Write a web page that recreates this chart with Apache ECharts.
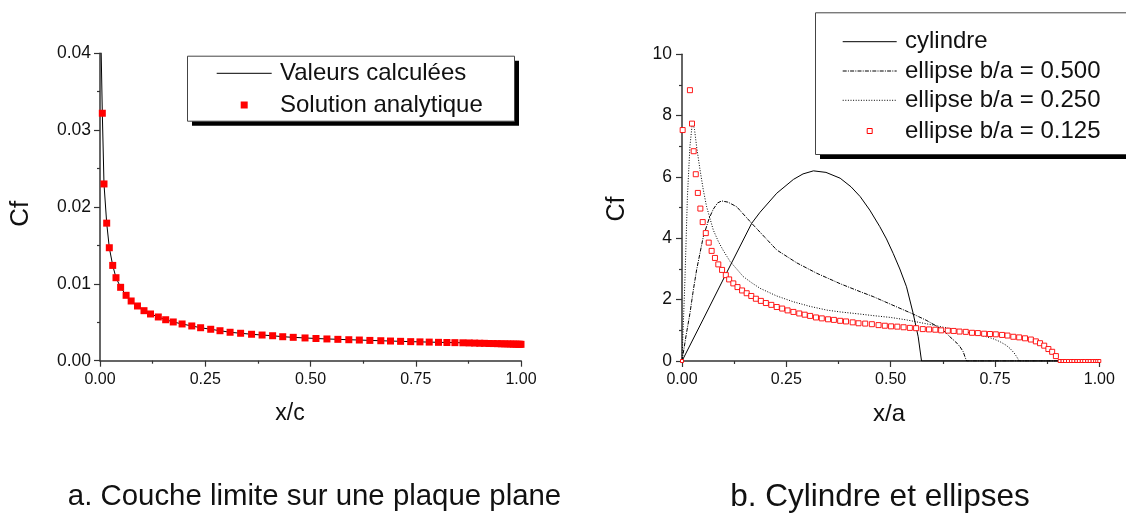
<!DOCTYPE html>
<html>
<head>
<meta charset="utf-8">
<script src="https://cdn.jsdelivr.net/npm/echarts@6/dist/echarts.min.js"></script>
<style>
  html, body { margin: 0; padding: 0; background: #fff; }
  #chart { width: 1126px; height: 513px; }
</style>
</head>
<body>
<div id="chart"></div>
<script>
// ---- a. Flat-plate boundary layer: skin friction along the chord ----
const plateCalcX = [0.0025, 0.0055, 0.0095, 0.0159, 0.0221, 0.0302, 0.038, 0.049, 0.062, 0.074, 0.089,
  0.1045, 0.120, 0.1385, 0.156, 0.174, 0.195, 0.218, 0.239, 0.263, 0.285, 0.309, 0.334, 0.360, 0.385,
  0.410, 0.434, 0.459, 0.487, 0.513, 0.539, 0.565, 0.591, 0.616, 0.641, 0.667, 0.690, 0.714, 0.738,
  0.760, 0.782, 0.804, 0.824, 0.843, 0.862, 0.877, 0.890, 0.902, 0.913, 0.924, 0.934, 0.944, 0.953,
  0.961, 0.969, 0.976, 0.982, 0.988, 0.993, 0.997, 1.000];
const plateCalcCf = [0.0410, 0.0322, 0.0230, 0.0179, 0.0147, 0.0124, 0.0108, 0.00955, 0.00851, 0.00777, 0.00712,
  0.00651, 0.00608, 0.00569, 0.00533, 0.00504, 0.00478, 0.00452, 0.00429, 0.00409, 0.00390, 0.00370, 0.00357, 0.00344, 0.00334,
  0.00325, 0.00312, 0.00304, 0.00296, 0.00289, 0.00283, 0.00278, 0.00273, 0.00269, 0.00264, 0.00260, 0.00256, 0.00252, 0.00248,
  0.00245, 0.00242, 0.00239, 0.00237, 0.00235, 0.00233, 0.00231, 0.00229, 0.00227, 0.00226, 0.00224, 0.00223, 0.00222, 0.00220,
  0.00219, 0.00218, 0.00217, 0.00216, 0.00215, 0.00214, 0.00214, 0.00213];

const plateExactX = [0.0055, 0.0095, 0.0159, 0.0221, 0.0302, 0.038, 0.049, 0.062, 0.074, 0.089,
  0.1045, 0.120, 0.1385, 0.156, 0.174, 0.195, 0.218, 0.239, 0.263, 0.285, 0.309, 0.334, 0.360, 0.385,
  0.410, 0.434, 0.459, 0.487, 0.513, 0.539, 0.565, 0.591, 0.616, 0.641, 0.667, 0.690, 0.714, 0.738,
  0.760, 0.782, 0.804, 0.824, 0.843, 0.862, 0.877, 0.890, 0.902, 0.913, 0.924, 0.934, 0.944, 0.953,
  0.961, 0.969, 0.976, 0.982, 0.988, 0.993, 0.997, 1.000];
const plateExactCf = [0.0322, 0.0230, 0.0179, 0.0147, 0.0124, 0.0108, 0.00955, 0.00851, 0.00777, 0.00712,
  0.00651, 0.00608, 0.00569, 0.00533, 0.00504, 0.00478, 0.00452, 0.00429, 0.00409, 0.00390, 0.00370, 0.00357, 0.00344, 0.00334,
  0.00325, 0.00312, 0.00304, 0.00296, 0.00289, 0.00283, 0.00278, 0.00273, 0.00269, 0.00264, 0.00260, 0.00256, 0.00252, 0.00248,
  0.00245, 0.00242, 0.00239, 0.00237, 0.00235, 0.00233, 0.00231, 0.00229, 0.00227, 0.00226, 0.00224, 0.00223, 0.00222, 0.00220,
  0.00219, 0.00218, 0.00217, 0.00216, 0.00215, 0.00214, 0.00214, 0.00213];

// ---- b. Cylinder and ellipses: skin friction along the surface ----
const cylX  = [0, 0.05, 0.107, 0.167, 0.187, 0.227, 0.267, 0.29, 0.315, 0.345, 0.379, 0.405, 0.427, 0.45,
  0.474, 0.49, 0.506, 0.522, 0.538, 0.554, 0.566, 0.574, 1.0];
const cylCf = [0, 1.34, 2.88, 4.49, 4.85, 5.47, 5.92, 6.10, 6.20, 6.15, 5.96, 5.68, 5.36, 4.92,
  4.38, 3.98, 3.51, 3.00, 2.42, 1.55, 0.79, 0, 0];

const ell50X  = [0, 0.01, 0.019, 0.027, 0.035, 0.051, 0.065, 0.075, 0.085, 0.095, 0.11, 0.131, 0.167,
  0.227, 0.275, 0.323, 0.379, 0.427, 0.458, 0.50, 0.554, 0.585, 0.610, 0.630, 0.642, 0.656, 0.666,
  0.674, 0.678, 0.682, 1.0];
const ell50Cf = [0, 0.85, 1.55, 2.30, 2.97, 4.05, 4.65, 4.95, 5.15, 5.22, 5.18, 5.03, 4.49,
  3.62, 3.20, 2.86, 2.52, 2.26, 2.10, 1.85, 1.53, 1.33, 1.14, 0.95, 0.79, 0.62, 0.47,
  0.30, 0.14, 0, 0];

const ell25X  = [0, 0.004, 0.007, 0.013, 0.019, 0.025, 0.03, 0.035, 0.043, 0.051, 0.059, 0.075, 0.087,
  0.099, 0.115, 0.131, 0.147, 0.167, 0.187, 0.227, 0.267, 0.307, 0.347, 0.379, 0.427, 0.458, 0.50,
  0.538, 0.602, 0.658, 0.714, 0.745, 0.762, 0.776, 0.786, 0.796, 0.802, 0.808, 1.0];
const ell25Cf = [0, 1.5, 2.64, 5.36, 7.0, 7.80, 7.55, 6.99, 6.25, 5.58, 5.03, 4.27, 3.90,
  3.60, 3.25, 3.00, 2.75, 2.55, 2.37, 2.12, 1.93, 1.78, 1.66, 1.60, 1.53, 1.48, 1.42,
  1.34, 1.17, 1.01, 0.85, 0.73, 0.63, 0.52, 0.41, 0.26, 0.14, 0, 0];

const ell125X  = [0, 0.0016, 0.019, 0.024, 0.028, 0.033, 0.038, 0.044, 0.0496, 0.057, 0.064, 0.071, 0.079,
  0.087, 0.096, 0.105, 0.113, 0.123, 0.133, 0.144, 0.155, 0.166, 0.177, 0.189, 0.201, 0.214, 0.227,
  0.240, 0.253, 0.267, 0.281, 0.294, 0.307, 0.321, 0.335, 0.350, 0.364, 0.379, 0.393, 0.409, 0.423,
  0.439, 0.455, 0.471, 0.486, 0.501, 0.516, 0.531, 0.546, 0.561, 0.577, 0.592, 0.607, 0.621, 0.637,
  0.651, 0.665, 0.680, 0.695, 0.709, 0.724, 0.738, 0.752, 0.767, 0.780, 0.794, 0.808, 0.822, 0.836,
  0.848, 0.858, 0.868, 0.878, 0.887, 0.896,
  0.905, 0.912, 0.918, 0.925, 0.932, 0.938, 0.945, 0.951, 0.958, 0.964, 0.971, 0.977, 0.984, 0.990, 0.995, 1.0];
const ell125Cf = [0, 7.53, 8.83, 7.74, 6.84, 6.09, 5.48, 4.97, 4.53, 4.17, 3.86, 3.59, 3.36,
  3.15, 2.97, 2.80, 2.66, 2.53, 2.41, 2.30, 2.21, 2.12, 2.03, 1.96, 1.89, 1.83, 1.76,
  1.71, 1.65, 1.60, 1.55, 1.51, 1.47, 1.42, 1.39, 1.36, 1.34, 1.31, 1.29, 1.26, 1.23,
  1.22, 1.20, 1.17, 1.15, 1.13, 1.12, 1.10, 1.08, 1.07, 1.04, 1.03, 1.02, 1.00, 0.99,
  0.98, 0.96, 0.95, 0.92, 0.91, 0.89, 0.88, 0.87, 0.85, 0.83, 0.79, 0.77, 0.74, 0.70,
  0.64, 0.58, 0.50, 0.39, 0.30, 0.16,
  0, 0, 0, 0, 0, 0, 0, 0, 0, 0, 0, 0, 0, 0, 0, 0];

// ---- tick labels ----
const chordTickLabels = ['0.00', '0.25', '0.50', '0.75', '1.00'];
const plateCfTickLabels = ['0.00', '0.01', '0.02', '0.03', '0.04'];
const bodyCfTickLabels = ['0', '2', '4', '6', '8', '10'];

// ---- names ----
const plateSeriesNames = ['Valeurs calculées', 'Solution analytique'];
const bodySeriesNames = ['cylindre', 'ellipse b/a = 0.500', 'ellipse b/a = 0.250', 'ellipse b/a = 0.125'];
const captions = ['a. Couche limite sur une plaque plane', 'b. Cylindre et ellipses'];

const FONT = '"Liberation Sans", Arial, Helvetica, sans-serif';
const AXIS_COLOR = '#333';
const RED = '#ff0000';
const DASH_DOT = [4, 1.2, 1, 1.2];
const DOTTED = [1, 1.6];
const zip = (xs, ys) => xs.map((x, i) => [x, ys[i]]);

function axisStyle(labelSize, labelMargin, formatter) {
  return {
    axisLine: { show: true, onZero: false, lineStyle: { color: AXIS_COLOR, width: 1.5 } },
    axisTick: { show: true, inside: false, length: 6, lineStyle: { color: AXIS_COLOR, width: 1.2 } },
    minorTick: { show: true, splitNumber: 2, length: 3, lineStyle: { color: AXIS_COLOR, width: 1.2 } },
    splitLine: { show: false },
    minorSplitLine: { show: false },
    axisLabel: { fontSize: labelSize, margin: labelMargin, color: '#111', fontFamily: FONT, formatter }
  };
}

function text(str, x, y, size, rotation, align) {
  return {
    type: 'text', x, y, rotation: rotation || 0, z: 10,
    style: { text: str, fontSize: size, fontFamily: FONT, fill: '#111', align: align || 'center', verticalAlign: 'middle' }
  };
}

// Framed legend with a hard drop shadow; each entry draws a sample of its series style.
function legendPanel(box, sampleX0, sampleX1, textX, rows) {
  const els = [
    { type: 'rect', z: 8, shape: { x: box.x + 5, y: box.y + 5, width: box.w, height: box.h }, style: { fill: '#000' } },
    { type: 'rect', z: 9, shape: { x: box.x + 0.5, y: box.y + 0.5, width: box.w, height: box.h }, style: { fill: '#fff', stroke: '#444', lineWidth: 1 } }
  ];
  const mid = (sampleX0 + sampleX1) / 2;
  rows.forEach(r => {
    if (r.kind === 'line') {
      els.push({ type: 'line', z: 10, shape: { x1: sampleX0, y1: r.y, x2: sampleX1, y2: r.y },
        style: { stroke: '#000', lineWidth: 1, lineDash: r.dash || null } });
    } else {
      els.push({ type: 'rect', z: 10, shape: { x: mid - r.size / 2, y: r.y - r.size / 2, width: r.size, height: r.size },
        style: r.hollow ? { fill: '#fff', stroke: RED, lineWidth: 1 } : { fill: RED } });
    }
    els.push(text(r.name, textX, r.y, 24, 0, 'left'));
  });
  return els;
}

const chart = echarts.init(document.getElementById('chart'), null, { renderer: 'canvas' });

chart.setOption({
  backgroundColor: '#fff',
  animation: false,
  textStyle: { fontFamily: FONT },
  grid: [
    { left: 100, top: 53.3, width: 421, height: 307.4 },
    { left: 682, top: 54.3, width: 417.3, height: 306.7 }
  ],
  xAxis: [
    Object.assign({ type: 'value', gridIndex: 0, min: 0, max: 1, interval: 0.25 },
      axisStyle(16, 11, v => chordTickLabels[Math.round(v / 0.25)])),
    Object.assign({ type: 'value', gridIndex: 1, min: 0, max: 1, interval: 0.25 },
      axisStyle(16, 11, v => chordTickLabels[Math.round(v / 0.25)]))
  ],
  yAxis: [
    Object.assign({ type: 'value', gridIndex: 0, min: 0, max: 0.04, interval: 0.01 },
      axisStyle(17.5, 9, v => plateCfTickLabels[Math.round(v / 0.01)])),
    Object.assign({ type: 'value', gridIndex: 1, min: 0, max: 10, interval: 2 },
      axisStyle(17.5, 10, v => bodyCfTickLabels[Math.round(v / 2)]))
  ],
  series: [
    {
      name: plateSeriesNames[0], type: 'line', xAxisIndex: 0, yAxisIndex: 0,
      data: zip(plateCalcX, plateCalcCf), symbol: 'none', clip: true, z: 2,
      lineStyle: { color: '#000', width: 1 }, itemStyle: { color: '#000' }
    },
    {
      name: plateSeriesNames[1], type: 'scatter', xAxisIndex: 0, yAxisIndex: 0,
      data: zip(plateExactX, plateExactCf), symbol: 'rect', symbolSize: 7, z: 3,
      itemStyle: { color: RED, opacity: 1 }
    },
    {
      name: bodySeriesNames[0], type: 'line', xAxisIndex: 1, yAxisIndex: 1,
      data: zip(cylX, cylCf), symbol: 'none', z: 2,
      lineStyle: { color: '#000', width: 1 }, itemStyle: { color: '#000' }
    },
    {
      name: bodySeriesNames[1], type: 'line', xAxisIndex: 1, yAxisIndex: 1,
      data: zip(ell50X, ell50Cf), symbol: 'none', z: 2,
      lineStyle: { color: '#000', width: 1, type: DASH_DOT }, itemStyle: { color: '#000' }
    },
    {
      name: bodySeriesNames[2], type: 'line', xAxisIndex: 1, yAxisIndex: 1,
      data: zip(ell25X, ell25Cf), symbol: 'none', z: 2,
      lineStyle: { color: '#000', width: 1, type: DOTTED }, itemStyle: { color: '#000' }
    },
    {
      name: bodySeriesNames[3], type: 'scatter', xAxisIndex: 1, yAxisIndex: 1,
      data: zip(ell125X, ell125Cf), symbol: 'rect', z: 3,
      // points lying on the wall (Cf = 0) sit on the axis and show only as small marks
      symbolSize: v => (v[1] === 0 ? 3 : 5),
      itemStyle: { color: '#fff', borderColor: RED, borderWidth: 0.9, opacity: 1 }
    }
  ],
  graphic: [
    text('Cf', 21, 213.7, 26, Math.PI / 2),
    text('x/c', 290, 414, 23),
    text('Cf', 617.5, 209, 25, Math.PI / 2),
    text('x/a', 889, 414, 24),
    text(captions[0], 314.5, 497, 29.4),
    text(captions[1], 880, 497, 31.5)
  ].concat(
    legendPanel({ x: 187, y: 55.7, w: 327, h: 65 }, 216.7, 271.7, 280, [
      { kind: 'line', name: plateSeriesNames[0], y: 73.3 },
      { kind: 'mark', name: plateSeriesNames[1], y: 105, size: 7 }
    ]),
    legendPanel({ x: 815, y: 12.3, w: 400, h: 141.7 }, 842.7, 896.7, 905, [
      { kind: 'line', name: bodySeriesNames[0], y: 41.7 },
      { kind: 'line', name: bodySeriesNames[1], y: 71, dash: DASH_DOT },
      { kind: 'line', name: bodySeriesNames[2], y: 100.3, dash: DOTTED },
      { kind: 'mark', name: bodySeriesNames[3], y: 131, size: 5, hollow: true }
    ])
  )
});
</script>
</body>
</html>
